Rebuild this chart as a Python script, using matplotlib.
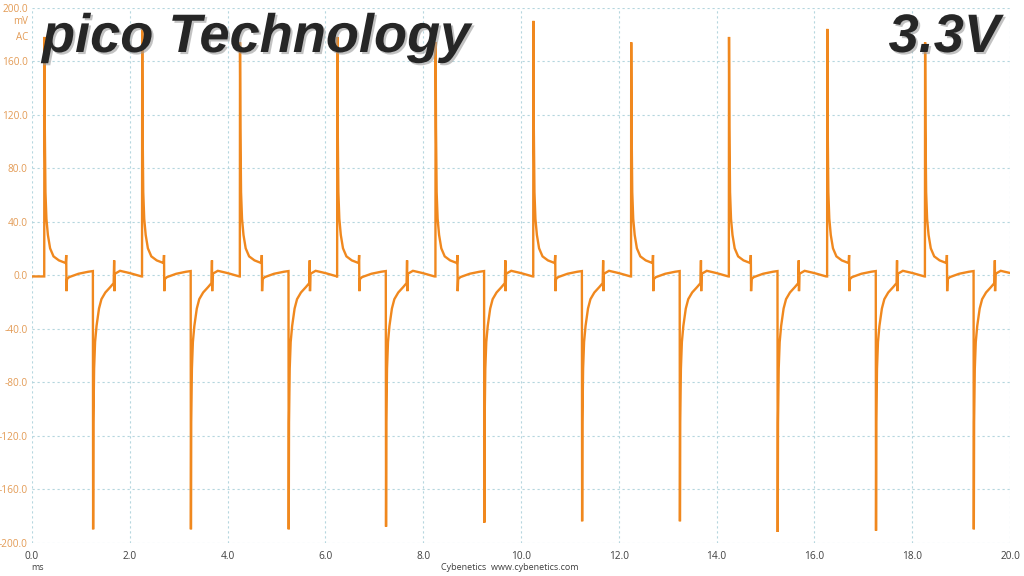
import numpy as np
import matplotlib
matplotlib.use("Agg")
import matplotlib.pyplot as plt
import matplotlib.patheffects as pe

# ---- data ----
# rise times of each positive spike (ms) and their peaks (mV)
rise_times = [0.25, 2.25, 4.25, 6.24, 8.25, 10.25, 12.25, 14.25, 16.26, 18.26]
pos_peaks = [178, 184, 174, 178, 174, 190, 174, 178, 184, 174]
neg_peaks = [-190, -190, -190, -188, -185, -184, -184, -192, -191, -190]

# one cycle shape, relative to the rise time (ms, mV); 'P' = pos peak, 'N' = neg peak
cycle_dt = [-0.01, 0.0, 0.004, 0.012, 0.025, 0.045, 0.075, 0.12, 0.19, 0.30, 0.44,
            0.45, 0.455, 0.465, 0.51, 0.70, 0.90, 0.995, 1.0, 1.006, 1.02, 1.04,
            1.07, 1.12, 1.17, 1.25, 1.35, 1.42, 1.43, 1.435, 1.445, 1.55, 1.75, 1.99]
cycle_v = [-1.0, -1.0, 'P', 110, 62, 42, 30, 20, 14, 11, 9,
           15, -12, -3, -1.5, 1.0, 2.5, 3.0, 'N', -110, -70, -50,
           -38, -25, -18, -13, -9, -6, 11, -12, 1.0, 3.2, 1.5, -1.0]

y_ticks = [200, 160, 120, 80, 40, 0, -40, -80, -120, -160, -200]
x_ticks = [0, 2, 4, 6, 8, 10, 12, 14, 16, 18, 20]

# ---- build trace ----
t = [0.0]
v = [-1.0]
for t0, pp, npk in zip(rise_times, pos_peaks, neg_peaks):
    for dt, val in zip(cycle_dt, cycle_v):
        t.append(t0 + dt)
        v.append(pp if val == 'P' else (npk if val == 'N' else val))
t = np.array(t)
v = np.array(v)

W, H = 1024, 576
fig = plt.figure(figsize=(W / 100, H / 100), dpi=100)
fig.patch.set_facecolor("white")
x0, x1 = 32, 1010
y0, y1 = 7.5, 542.7
ax = fig.add_axes([x0 / W, 1 - y1 / H, (x1 - x0) / W, (y1 - y0) / H])

ax.plot(t, v, color="#f0881e", lw=1.7, solid_joinstyle="miter", zorder=3)

ax.set_xlim(0, 20)
ax.set_ylim(-200, 200)
ax.set_xticks(x_ticks)
ax.set_yticks(y_ticks)
ax.set_xticklabels([f"{x:.1f}" for x in x_ticks])
ax.set_yticklabels([f"{y:.1f}" for y in y_ticks])
for s in ax.spines.values():
    s.set_visible(False)
ax.grid(True, color="#b5d6de", linestyle=(0, (2, 2.5)), linewidth=0.8, zorder=0)
ax.tick_params(length=0, pad=3)
for lab in ax.get_yticklabels():
    lab.set_color("#e39b55")
    lab.set_fontsize(7.3)
    lab.set_family("Open Sans")
for lab in ax.get_xticklabels():
    lab.set_color("#404040")
    lab.set_fontsize(7.3)
    lab.set_family("Open Sans")
ax.tick_params(axis="x", pad=6)

# unit labels
fig.text(28 / W, 1 - 22 / H, "mV", ha="right", va="center", fontsize=7,
         color="#e39b55", family="Open Sans")
fig.text(28 / W, 1 - 37 / H, "AC", ha="right", va="center", fontsize=7,
         color="#e39b55", family="Open Sans")
fig.text(38 / W, 1 - 568 / H, "ms", ha="center", va="center", fontsize=6.5,
         color="#404040", family="Open Sans")
fig.text(510 / W, 1 - 568 / H, "Cybenetics  www.cybenetics.com", ha="center",
         va="center", fontsize=6.5, color="#404040", family="Open Sans")

# titles
effects = [pe.withSimplePatchShadow(offset=(1.5, -1.5), shadow_rgbFace="#9a9a9a", alpha=0.6)]
fig.text(42 / W, 1 - 52 / H, "pico Technology", ha="left", va="baseline",
         fontsize=39, fontweight="bold", fontstyle="italic",
         family="Liberation Sans", color="#262626", path_effects=effects, zorder=5)
fig.text(1000 / W, 1 - 52 / H, "3.3V", ha="right", va="baseline",
         fontsize=39, fontweight="bold", fontstyle="italic",
         family="Liberation Sans", color="#262626", path_effects=effects, zorder=5)

fig.savefig("out.png", dpi=100, facecolor="white")
